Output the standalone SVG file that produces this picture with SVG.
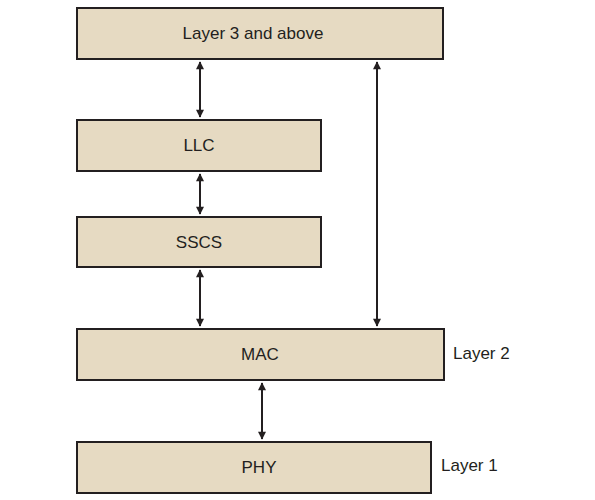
<svg xmlns="http://www.w3.org/2000/svg" width="595" height="500" viewBox="0 0 595 500">
<defs>
<style>
.box{fill:#e6dac2;stroke:#231f20;stroke-width:2}
.lbl{font-family:"Liberation Sans",Arial,sans-serif;font-size:17px;fill:#231f20;text-anchor:middle;dominant-baseline:central}
.side{font-family:"Liberation Sans",Arial,sans-serif;font-size:17px;fill:#231f20;dominant-baseline:central}
.con{stroke:#231f20;stroke-width:2;fill:none;marker-start:url(#ah);marker-end:url(#ah)}
</style>
<marker id="ah" viewBox="0 0 10 10" refX="9" refY="5" markerWidth="10" markerHeight="8" markerUnits="userSpaceOnUse" orient="auto-start-reverse">
<path d="M0,0 L10,5 L0,10 z" fill="#231f20"/>
</marker>
</defs>
<rect width="595" height="500" fill="#ffffff"/>
<g id="layer3"><rect class="box" x="77" y="8" width="366" height="51"/><text class="lbl" x="253" y="33">Layer 3 and above</text></g>
<g id="llc"><rect class="box" x="77" y="120" width="244" height="51"/><text class="lbl" x="199" y="145">LLC</text></g>
<g id="sscs"><rect class="box" x="77" y="217" width="244" height="50"/><text class="lbl" x="199" y="242">SSCS</text></g>
<g id="mac"><rect class="box" x="77" y="329" width="367" height="51"/><text class="lbl" x="260" y="354">MAC</text></g>
<g id="phy"><rect class="box" x="77" y="442" width="354" height="51"/><text class="lbl" x="259" y="467">PHY</text></g>
<g id="labels"><text class="side" x="453" y="353">Layer 2</text><text class="side" x="441" y="465">Layer 1</text></g>
<g id="connectors">
<line class="con" x1="200" y1="62" x2="200" y2="117"/>
<line class="con" x1="200" y1="174" x2="200" y2="214"/>
<line class="con" x1="200" y1="270" x2="200" y2="326"/>
<line class="con" x1="377" y1="62" x2="377" y2="326"/>
<line class="con" x1="262" y1="383" x2="262" y2="439"/>
</g>
</svg>
